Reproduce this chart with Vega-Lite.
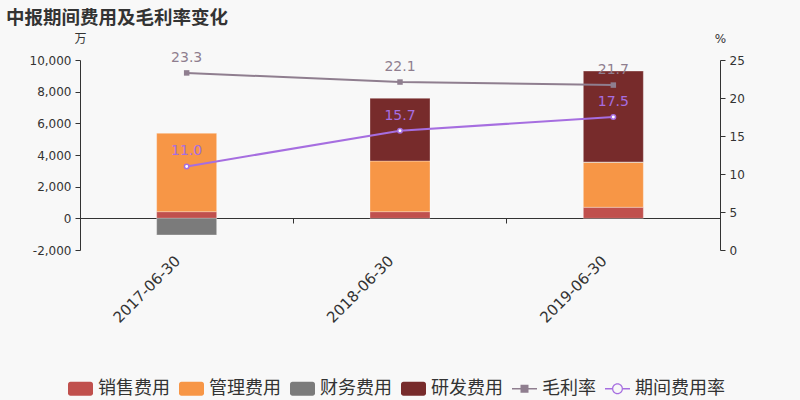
{
  "$schema": "https://vega.github.io/schema/vega-lite/v6.json",
  "width": 640,
  "height": 190,
  "autosize": {"type": "none"},
  "padding": {"left": 80, "top": 60, "right": 80, "bottom": 150},
  "background": "#f8f8f8",
  "config": {
    "view": {"stroke": null},
    "font": "DejaVu Sans, Noto Sans CJK SC, sans-serif",
    "axis": {"labelColor": "#333", "domainColor": "#333", "tickColor": "#333", "grid": false, "labelFontSize": 12, "titleColor": "#333", "titleFontWeight": "normal"}
  },
  "title": {
    "text": "中报期间费用及毛利率变化",
    "anchor": "start",
    "frame": "group",
    "dx": -74,
    "offset": 5,
    "fontSize": 18.5,
    "fontWeight": "bold",
    "color": "#333",
    "font": "Noto Sans CJK SC"
  },
  "datasets": {
    "costs": [
      {"period": "2017-06-30", "series": "销售费用", "o": 1, "value": 420},
      {"period": "2017-06-30", "series": "管理费用", "o": 2, "value": 4950},
      {"period": "2017-06-30", "series": "财务费用", "o": 3, "value": -1050},
      {"period": "2018-06-30", "series": "销售费用", "o": 1, "value": 420},
      {"period": "2018-06-30", "series": "管理费用", "o": 2, "value": 3200},
      {"period": "2018-06-30", "series": "研发费用", "o": 4, "value": 3960},
      {"period": "2019-06-30", "series": "销售费用", "o": 1, "value": 700},
      {"period": "2019-06-30", "series": "管理费用", "o": 2, "value": 2840},
      {"period": "2019-06-30", "series": "财务费用", "o": 3, "value": 20},
      {"period": "2019-06-30", "series": "研发费用", "o": 4, "value": 5740}
    ],
    "rates": [
      {"period": "2017-06-30", "series": "毛利率", "rate": 23.3},
      {"period": "2018-06-30", "series": "毛利率", "rate": 22.1},
      {"period": "2019-06-30", "series": "毛利率", "rate": 21.7},
      {"period": "2017-06-30", "series": "期间费用率", "rate": 11.0},
      {"period": "2018-06-30", "series": "期间费用率", "rate": 15.7},
      {"period": "2019-06-30", "series": "期间费用率", "rate": 17.5}
    ]
  },
  "layer": [
    {
      "data": {"name": "costs"},
      "encoding": {
        "x": {
          "field": "period", "type": "nominal", "sort": null,
          "scale": {"paddingInner": 0, "paddingOuter": 0},
          "axis": {"orient": "bottom", "title": null, "labelAngle": -45, "labelAlign": "right", "labelBaseline": "middle", "domain": false, "ticks": false, "labelFontSize": 15, "labelPadding": 8, "labelOffset": -9}
        },
        "y": {
          "field": "value", "type": "quantitative", "stack": "zero",
          "scale": {"domain": [-2000, 10000], "nice": false, "zero": false},
          "axis": {"values": [-2000, 0, 2000, 4000, 6000, 8000, 10000], "format": ",d", "labelExpr": "replace(datum.label, '−', '-')", "title": "万", "titleAngle": 0, "titleX": 0, "titleY": -22, "titleAlign": "center", "titleBaseline": "middle", "titleFontSize": 12, "tickSize": 5, "labelPadding": 4}
        }
      },
      "layer": [
        {
          "mark": {"type": "bar", "size": 60, "stroke": "#ffffff", "strokeOpacity": 0.3, "strokeWidth": 1},
          "encoding": {
            "color": {
              "field": "series", "type": "nominal",
              "scale": {"domain": ["销售费用", "管理费用", "财务费用", "研发费用", "毛利率", "期间费用率"], "range": ["#c0504d", "#f79646", "#7b7b7b", "#772b2b", "#8f7e8f", "#a66ee0"]},
              "legend": {
                "orient": "none", "legendX": -12, "legendY": 316, "direction": "horizontal", "columns": 6,
                "title": null, "labelFontSize": 18, "labelColor": "#333", "labelFont": "Noto Sans CJK SC",
                "symbolSize": 625, "symbolOpacity": 1, "symbolStrokeWidth": 0, "columnPadding": 9, "labelOffset": 5
              }
            },
            "order": {"field": "o", "type": "quantitative"}
          }
        },
        {
          "mark": {"type": "point", "filled": true, "opacity": 0},
          "encoding": {
            "shape": {
              "field": "series", "type": "nominal",
              "scale": {
                "domain": ["销售费用", "管理费用", "财务费用", "研发费用", "毛利率", "期间费用率"],
                "range": [
                  "M-0.8,-0.56H0.8A0.2,0.2 0 0 1 1,-0.36V0.36A0.2,0.2 0 0 1 0.8,0.56H-0.8A0.2,0.2 0 0 1 -1,0.36V-0.36A0.2,0.2 0 0 1 -0.8,-0.56Z",
                  "M-0.8,-0.56H0.8A0.2,0.2 0 0 1 1,-0.36V0.36A0.2,0.2 0 0 1 0.8,0.56H-0.8A0.2,0.2 0 0 1 -1,0.36V-0.36A0.2,0.2 0 0 1 -0.8,-0.56Z",
                  "M-0.8,-0.56H0.8A0.2,0.2 0 0 1 1,-0.36V0.36A0.2,0.2 0 0 1 0.8,0.56H-0.8A0.2,0.2 0 0 1 -1,0.36V-0.36A0.2,0.2 0 0 1 -0.8,-0.56Z",
                  "M-0.8,-0.56H0.8A0.2,0.2 0 0 1 1,-0.36V0.36A0.2,0.2 0 0 1 0.8,0.56H-0.8A0.2,0.2 0 0 1 -1,0.36V-0.36A0.2,0.2 0 0 1 -0.8,-0.56Z",
                  "M-1,-0.06H1V0.06H-1ZM-0.32,-0.32H0.32V0.32H-0.32Z",
                  "M-1,-0.06H-0.44V0.06H-1ZM0.44,-0.06H1V0.06H0.44ZM0.44,0A0.44,0.44 0 1,1 -0.44,0A0.44,0.44 0 1,1 0.44,0ZM0.34,0A0.34,0.34 0 1,0 -0.34,0A0.34,0.34 0 1,0 0.34,0Z"
                ]
              },
              "legend": {
                "orient": "none", "legendX": -12, "legendY": 316, "direction": "horizontal", "columns": 6,
                "title": null, "labelFontSize": 18, "labelColor": "#333", "labelFont": "Noto Sans CJK SC",
                "symbolSize": 625, "symbolOpacity": 1, "symbolStrokeWidth": 0, "columnPadding": 9, "labelOffset": 5
              }
            }
          }
        }
      ]
    },
    {
      "data": {"name": "rates"},
      "encoding": {
        "x": {
          "field": "period", "type": "nominal", "sort": null,
          "axis": {"orient": "bottom", "title": null, "labels": false, "domain": true, "ticks": true, "bandPosition": 0, "tickSize": 5, "offset": -32}
        },
        "y": {
          "field": "rate", "type": "quantitative",
          "scale": {"domain": [0, 25], "nice": false},
          "axis": {"orient": "right", "values": [0, 5, 10, 15, 20, 25], "title": "%", "titleAngle": 0, "titleX": 0, "titleY": -22, "titleAlign": "center", "titleBaseline": "middle", "titleFontSize": 12, "tickSize": 5, "labelPadding": 4}
        },
        "color": {
          "field": "series", "type": "nominal",
          "scale": {"domain": ["销售费用", "管理费用", "财务费用", "研发费用", "毛利率", "期间费用率"], "range": ["#c0504d", "#f79646", "#7b7b7b", "#772b2b", "#8f7e8f", "#a66ee0"]},
          "legend": null
        }
      },
      "layer": [
        {"mark": {"type": "line", "strokeWidth": 2}},
        {
          "transform": [{"filter": "datum.series === '毛利率'"}],
          "mark": {"type": "point", "shape": "square", "filled": true, "size": 30, "opacity": 1}
        },
        {
          "transform": [{"filter": "datum.series === '期间费用率'"}],
          "mark": {"type": "point", "shape": "circle", "filled": false, "fill": "#ffffff", "size": 20, "strokeWidth": 1.5, "opacity": 1}
        },
        {
          "mark": {"type": "text", "dy": -15, "fontSize": 14},
          "encoding": {"text": {"field": "rate", "type": "quantitative", "format": ".1f"}}
        }
      ]
    }
  ],
  "resolve": {"scale": {"y": "independent"}, "axis": {"x": "independent"}}
}
